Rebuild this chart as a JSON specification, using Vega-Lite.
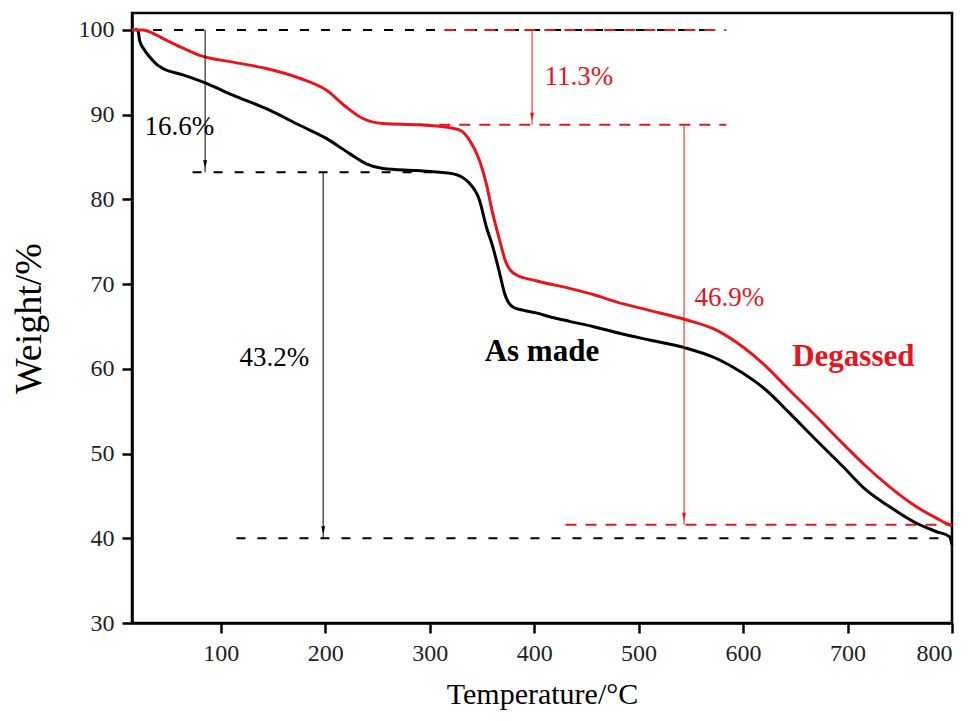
{
  "$schema": "https://vega.github.io/schema/vega-lite/v6.json",
  "width": 820,
  "height": 610,
  "autosize": "none",
  "padding": {"left": 132, "top": 13, "right": 24, "bottom": 98},
  "background": "white",
  "config": {
    "view": {"stroke": "black", "strokeWidth": 2.5},
    "font": "Liberation Serif",
    "axis": {
      "grid": false,
      "domainColor": "black",
      "domainWidth": 2.5,
      "tickColor": "black",
      "tickWidth": 2.5,
      "tickSize": 10,
      "labelFont": "Liberation Serif",
      "labelFontSize": 24,
      "labelColor": "#222",
      "titleFont": "Liberation Serif",
      "titleFontSize": 30,
      "titleFontWeight": "normal",
      "titleColor": "black"
    }
  },
  "datasets": {
    "curves": [
      {"series": "As made", "t": 18, "w": 100.1},
      {"series": "As made", "t": 20.7, "w": 99.9},
      {"series": "As made", "t": 22.4, "w": 98.7},
      {"series": "As made", "t": 26, "w": 97.8},
      {"series": "As made", "t": 32, "w": 96.8},
      {"series": "As made", "t": 38, "w": 96.0},
      {"series": "As made", "t": 44.7, "w": 95.45},
      {"series": "As made", "t": 63.8, "w": 94.7},
      {"series": "As made", "t": 86.2, "w": 93.7},
      {"series": "As made", "t": 111.6, "w": 92.3},
      {"series": "As made", "t": 143.6, "w": 90.7},
      {"series": "As made", "t": 175.5, "w": 88.75},
      {"series": "As made", "t": 201, "w": 87.2},
      {"series": "As made", "t": 223.3, "w": 85.4},
      {"series": "As made", "t": 239.3, "w": 84.2},
      {"series": "As made", "t": 255.2, "w": 83.65},
      {"series": "As made", "t": 287, "w": 83.4},
      {"series": "As made", "t": 319, "w": 83.1},
      {"series": "As made", "t": 330, "w": 82.7},
      {"series": "As made", "t": 338.1, "w": 81.9},
      {"series": "As made", "t": 347.7, "w": 79.9},
      {"series": "As made", "t": 354.1, "w": 76.8},
      {"series": "As made", "t": 360.4, "w": 74.4},
      {"series": "As made", "t": 366.9, "w": 71.3},
      {"series": "As made", "t": 371.7, "w": 68.9},
      {"series": "As made", "t": 379.6, "w": 67.3},
      {"series": "As made", "t": 390, "w": 66.9},
      {"series": "As made", "t": 402, "w": 66.6},
      {"series": "As made", "t": 414.7, "w": 66.15},
      {"series": "As made", "t": 433.8, "w": 65.6},
      {"series": "As made", "t": 456.1, "w": 65.0},
      {"series": "As made", "t": 481.6, "w": 64.2},
      {"series": "As made", "t": 510.4, "w": 63.4},
      {"series": "As made", "t": 543.8, "w": 62.5},
      {"series": "As made", "t": 574, "w": 61.25},
      {"series": "As made", "t": 599.6, "w": 59.5},
      {"series": "As made", "t": 621.9, "w": 57.5},
      {"series": "As made", "t": 644.3, "w": 54.8},
      {"series": "As made", "t": 669.9, "w": 51.6},
      {"series": "As made", "t": 695.3, "w": 48.5},
      {"series": "As made", "t": 717.7, "w": 45.7},
      {"series": "As made", "t": 740, "w": 43.75},
      {"series": "As made", "t": 765.6, "w": 41.8},
      {"series": "As made", "t": 784.7, "w": 40.8},
      {"series": "As made", "t": 797.6, "w": 40.2},
      {"series": "As made", "t": 800, "w": 39.2},
      {"series": "Degassed", "t": 15, "w": 100},
      {"series": "Degassed", "t": 25.5, "w": 100},
      {"series": "Degassed", "t": 35, "w": 99.6},
      {"series": "Degassed", "t": 47.9, "w": 98.8},
      {"series": "Degassed", "t": 63, "w": 97.9},
      {"series": "Degassed", "t": 79.8, "w": 97.0},
      {"series": "Degassed", "t": 111.6, "w": 96.2},
      {"series": "Degassed", "t": 143.6, "w": 95.45},
      {"series": "Degassed", "t": 175.5, "w": 94.3},
      {"series": "Degassed", "t": 201, "w": 92.9},
      {"series": "Degassed", "t": 220.1, "w": 90.9},
      {"series": "Degassed", "t": 236, "w": 89.55},
      {"series": "Degassed", "t": 255.2, "w": 88.96},
      {"series": "Degassed", "t": 290, "w": 88.8},
      {"series": "Degassed", "t": 321.9, "w": 88.4},
      {"series": "Degassed", "t": 330, "w": 88.1},
      {"series": "Degassed", "t": 338.1, "w": 87.0},
      {"series": "Degassed", "t": 347.7, "w": 84.6},
      {"series": "Degassed", "t": 354.1, "w": 81.9},
      {"series": "Degassed", "t": 360.2, "w": 78.4},
      {"series": "Degassed", "t": 366.9, "w": 75.2},
      {"series": "Degassed", "t": 373.2, "w": 72.5},
      {"series": "Degassed", "t": 382.8, "w": 71.1},
      {"series": "Degassed", "t": 402, "w": 70.4},
      {"series": "Degassed", "t": 433.8, "w": 69.5},
      {"series": "Degassed", "t": 455.8, "w": 68.8},
      {"series": "Degassed", "t": 478.5, "w": 67.9},
      {"series": "Degassed", "t": 510.4, "w": 66.9},
      {"series": "Degassed", "t": 543.8, "w": 65.85},
      {"series": "Degassed", "t": 574, "w": 64.6},
      {"series": "Degassed", "t": 599.6, "w": 62.6},
      {"series": "Degassed", "t": 621.9, "w": 60.3},
      {"series": "Degassed", "t": 644.3, "w": 57.5},
      {"series": "Degassed", "t": 669.9, "w": 54.4},
      {"series": "Degassed", "t": 695.3, "w": 51.2},
      {"series": "Degassed", "t": 717.7, "w": 48.5},
      {"series": "Degassed", "t": 740, "w": 46.1},
      {"series": "Degassed", "t": 765.6, "w": 43.75},
      {"series": "Degassed", "t": 784.7, "w": 42.4},
      {"series": "Degassed", "t": 797.6, "w": 41.6},
      {"series": "Degassed", "t": 800, "w": 41.5}
    ],
    "levels": [
      {"series": "As made", "t1": 15, "t2": 565, "w": 100},
      {"series": "As made", "t1": 73, "t2": 310, "w": 83.2},
      {"series": "As made", "t1": 115, "t2": 800, "w": 40},
      {"series": "Degassed", "t1": 314, "t2": 584, "w": 100},
      {"series": "Degassed", "t1": 290, "t2": 584, "w": 88.8},
      {"series": "Degassed", "t1": 430, "t2": 800, "w": 41.6}
    ],
    "arrows": [
      {"series": "As made", "t": 85, "w1": 100, "w2": 83.2},
      {"series": "As made", "t": 198, "w1": 83.2, "w2": 40},
      {"series": "Degassed", "t": 398, "w1": 100, "w2": 88.8},
      {"series": "Degassed", "t": 543.5, "w1": 88.8, "w2": 41.6}
    ],
    "pct": [
      {"series": "As made", "t": 27, "w": 88.5, "label": "16.6%"},
      {"series": "As made", "t": 118, "w": 61.3, "label": "43.2%"},
      {"series": "Degassed", "t": 410, "w": 94.4, "label": "11.3%"},
      {"series": "Degassed", "t": 553.5, "w": 68.4, "label": "46.9%"}
    ],
    "names": [
      {"series": "As made", "t": 352.6, "w": 62.0, "label": "As made"},
      {"series": "Degassed", "t": 647, "w": 61.4, "label": "Degassed"}
    ]
  },
  "layer": [
    {
      "data": {"name": "levels"},
      "mark": {"type": "rule", "strokeWidth": 2},
      "encoding": {
        "x": {"field": "t1", "type": "quantitative", "scale": {"domain": [15, 800], "nice": false, "zero": false},
              "axis": {"values": [100, 200, 300, 400, 500, 600, 700, 800], "title": "Temperature/°C", "titlePadding": 14, "labelPadding": 8}},
        "x2": {"field": "t2"},
        "y": {"field": "w", "type": "quantitative", "scale": {"domain": [30, 102], "nice": false, "zero": false},
              "axis": {"values": [30, 40, 50, 60, 70, 80, 90, 100], "title": "Weight/%", "titleFontSize": 38, "titlePadding": 30, "labelPadding": 8}},
        "color": {"field": "series", "type": "nominal", "scale": {"domain": ["As made", "Degassed"], "range": ["black", "#e8161b"]}, "legend": null},
        "strokeDash": {"field": "series", "type": "nominal", "scale": {"domain": ["As made", "Degassed"], "range": [[9, 12], [11, 9]]}, "legend": null}
      }
    },
    {
      "data": {"name": "curves"},
      "mark": {"type": "line", "strokeWidth": 3, "interpolate": "monotone"},
      "encoding": {
        "x": {"field": "t", "type": "quantitative"},
        "y": {"field": "w", "type": "quantitative"},
        "color": {"field": "series", "type": "nominal"},
        "order": {"field": "t", "type": "quantitative"}
      }
    },
    {
      "data": {"name": "arrows"},
      "mark": {"type": "rule", "strokeWidth": 1},
      "encoding": {
        "x": {"field": "t", "type": "quantitative"},
        "y": {"field": "w1", "type": "quantitative"},
        "y2": {"field": "w2"},
        "color": {"field": "series", "type": "nominal"}
      }
    },
    {
      "data": {"name": "arrows"},
      "mark": {"type": "point", "shape": "M-0.5,-1L0.5,-1L0,1Z", "filled": true, "opacity": 1, "size": 64, "yOffset": -8},
      "encoding": {
        "x": {"field": "t", "type": "quantitative"},
        "y": {"field": "w2", "type": "quantitative"},
        "color": {"field": "series", "type": "nominal"}
      }
    },
    {
      "data": {"name": "pct"},
      "mark": {"type": "text", "align": "left", "baseline": "middle", "fontSize": 27, "font": "Liberation Serif"},
      "encoding": {
        "x": {"field": "t", "type": "quantitative"},
        "y": {"field": "w", "type": "quantitative"},
        "text": {"field": "label"},
        "color": {"field": "series", "type": "nominal"}
      }
    },
    {
      "data": {"name": "names"},
      "mark": {"type": "text", "align": "left", "baseline": "middle", "fontSize": 31, "fontWeight": "bold", "font": "Liberation Serif"},
      "encoding": {
        "x": {"field": "t", "type": "quantitative"},
        "y": {"field": "w", "type": "quantitative"},
        "text": {"field": "label"},
        "color": {"field": "series", "type": "nominal"}
      }
    }
  ]
}
